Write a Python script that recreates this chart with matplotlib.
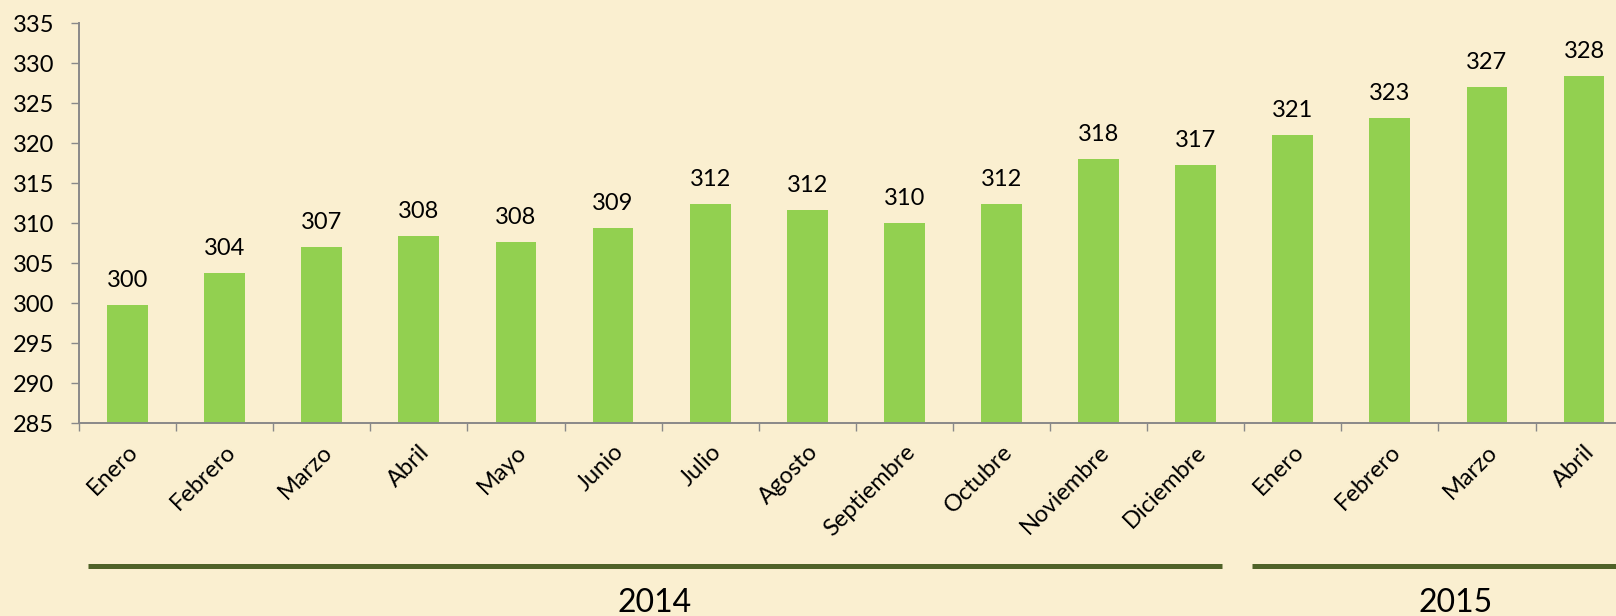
import matplotlib
matplotlib.use("Agg")
from matplotlib import pyplot as plt
from matplotlib import transforms
import numpy as np

# datos
meses = ['Enero', 'Febrero', 'Marzo', 'Abril', 'Mayo', 'Junio', 'Julio', 'Agosto',
         'Septiembre', 'Octubre', 'Noviembre', 'Diciembre',
         'Enero', 'Febrero', 'Marzo', 'Abril']
valores = [299.8, 303.8, 307.0, 308.4, 307.6, 309.4, 312.4, 311.6,
           310.0, 312.4, 318.0, 317.3, 321.0, 323.1, 327.0, 328.4]
etiquetas = ['300', '304', '307', '308', '308', '309', '312', '312',
             '310', '312', '318', '317', '321', '323', '327', '328']
anios = ['2014', '2015']
yticks = [285, 290, 295, 300, 305, 310, 315, 320, 325, 330, 335]

# layout of the year bars below the months (data units on x)
year_spans = [(-0.41, 11.27), (11.58, 15.78)]

fondo = '#FAEFD0'
verde = '#92D050'
oliva = '#4F6228'
gris = '#898989'

plt.rcParams['font.family'] = ['Lato', 'DejaVu Sans']

fig = plt.figure(figsize=(16.16, 6.16), dpi=100, facecolor=fondo)
ax = fig.add_axes([79 / 1616, 193 / 616, 1553.6 / 1616, 400 / 616])
ax.set_facecolor(fondo)

x = np.arange(len(valores))
ax.bar(x, np.array(valores) - 285, bottom=285, width=0.42, color=verde, zorder=2)

for xi, v, t in zip(x, valores, etiquetas):
    ax.annotate(t, (xi, v), xytext=(0, 13), textcoords='offset points',
                ha='center', va='baseline', fontsize=17, color='black')

ax.set_xlim(-0.5, len(valores) - 0.5)
ax.set_ylim(285, 335)
ax.set_yticks(yticks)
ax.set_yticklabels([str(t) for t in yticks], fontsize=17)

ax.set_xticks(x)
ax.set_xticklabels(meses, rotation=45, ha='right', va='top',
                   rotation_mode='anchor', fontsize=17)
ax.set_xticks(np.arange(len(valores) + 1) - 0.5, minor=True)
ax.tick_params(axis='x', which='major', length=0, pad=13)
ax.tick_params(axis='x', which='minor', length=6, width=1, color=gris, direction='out')
ax.tick_params(axis='y', length=6, width=1, color=gris, pad=12)

for s in ['top', 'right']:
    ax.spines[s].set_visible(False)
for s in ['left', 'bottom']:
    ax.spines[s].set_color(gris)
    ax.spines[s].set_linewidth(1.4)

# lineas de anio
trans = transforms.blended_transform_factory(ax.transData, fig.transFigure)
for (x0, x1), anio in zip(year_spans, anios):
    ax.plot([x0, x1], [1 - 565.5 / 616] * 2, transform=trans, color=oliva,
            linewidth=3.6, solid_capstyle='butt', clip_on=False)
    ax.text((x0 + x1) / 2, 1 - 588 / 616, anio, transform=trans, ha='center',
            va='top', fontsize=23, color='black')

fig.savefig('out.png', dpi=100, facecolor=fondo)
